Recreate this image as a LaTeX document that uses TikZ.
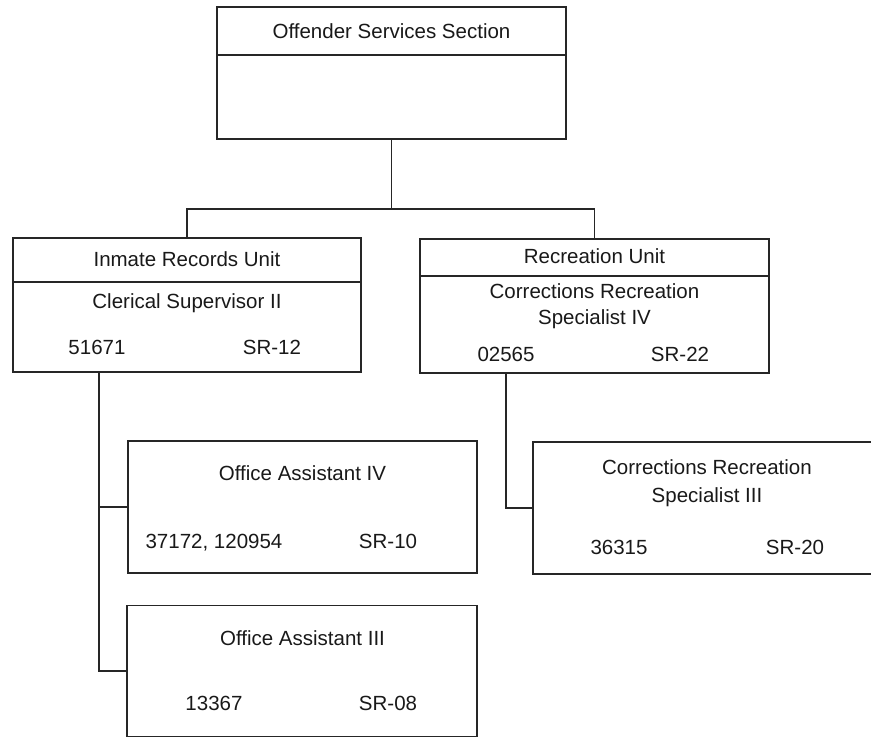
\documentclass[tikz,border=0pt]{standalone}
\usepackage{fontspec}
\setmainfont{Liberation Sans}
\begin{document}
\begin{tikzpicture}[x=1pt,y=-1pt,
  box/.style={draw=black!85,line width=1.3pt,rectangle,inner sep=0pt,minimum width=#1},
  lbl/.style={font=\fontsize{20.5}{26}\selectfont,inner sep=0pt,anchor=base,text=black!90},
  conn/.style={draw=black!85,line width=1.3pt}]
\useasboundingbox (0,0) rectangle (871,738);
% boxes
\node[box=349pt,minimum height=132pt] (top) at (391.5,73) {};
\node[box=348pt,minimum height=134pt] (L) at (187,305) {};
\node[box=349pt,minimum height=134pt] (R) at (594.5,306) {};
\node[box=349pt,minimum height=132pt] (oa4) at (302.5,507) {};
\node[box=350pt,minimum height=131pt] (oa3) at (302,671) {};
\node[box=348pt,minimum height=132pt] (crs3) at (707,508) {};
% dividers
\coordinate (tdl) at (217,55); \coordinate (tdr) at (566,55);
\draw[conn] (tdl) -- (tdr);
\coordinate (ldl) at (13,282); \coordinate (ldr) at (361,282);
\draw[conn] (ldl) -- (ldr);
\coordinate (rdl) at (420,276); \coordinate (rdr) at (769,276);
\draw[conn] (rdl) -- (rdr);
% texts
\node[lbl] (t1) at (391.5,39) {Offender Services Section};
\node[lbl] (t2) at (187,267) {Inmate Records Unit};
\node[lbl] (t3) at (187,309) {Clerical Supervisor II};
\node[lbl] (t4) at (97,355) {51671};
\node[lbl] (t5) at (272,355) {SR-12};
\node[lbl] (t6) at (594.5,264) {Recreation Unit};
\node[lbl] (t7) at (594.5,299) {Corrections Recreation};
\node[lbl] (t8) at (594.5,325) {Specialist IV};
\node[lbl] (t9) at (506,362) {02565};
\node[lbl] (t10) at (680,362) {SR-22};
\node[lbl] (t11) at (302.5,480) {Office Assistant IV};
\node[lbl] (t12) at (214,548) {37172, 120954};
\node[lbl] (t13) at (388,548) {SR-10};
\node[lbl] (t14) at (302.5,645) {Office Assistant III};
\node[lbl] (t15) at (214,710) {13367};
\node[lbl] (t16) at (388,710) {SR-08};
\node[lbl] (t17) at (707,474) {Corrections Recreation};
\node[lbl] (t18) at (707,502) {Specialist III};
\node[lbl] (t19) at (619,554) {36315};
\node[lbl] (t20) at (795,554) {SR-20};
% connectors
\coordinate (bus) at (391.5,209);
\draw[conn] (top.south) -- (bus);
\draw[conn] (bus) -| (L.north);
\draw[conn] (bus) -| (R.north);
\coordinate (lstem) at (99,372);
\draw[conn] (lstem) |- (oa3.west);
\draw[conn] (lstem) |- (oa4.west);
\coordinate (rstem) at (506,373);
\draw[conn] (rstem) |- (crs3.west);
\end{tikzpicture}
\end{document}
